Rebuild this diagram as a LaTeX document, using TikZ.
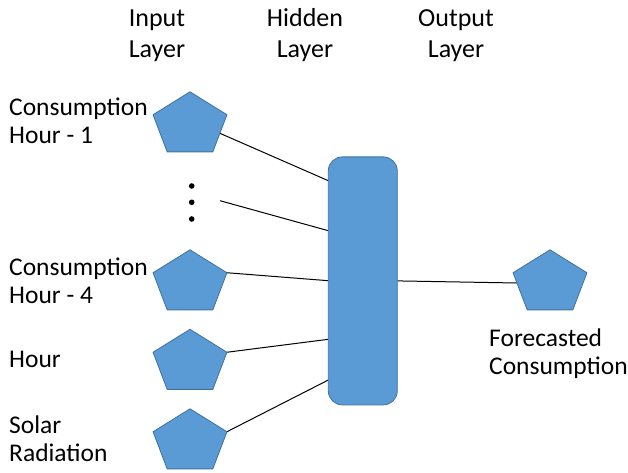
\documentclass[tikz,border=0pt]{standalone}
\usepackage{fontspec}
\setmainfont{Carlito}
\usetikzlibrary{shapes.geometric,backgrounds}
\definecolor{nodeblue}{HTML}{5B9BD5}
\definecolor{edgeblue}{HTML}{41719C}
\tikzset{
  penta/.style={regular polygon, regular polygon sides=5, minimum size=66.4pt,
    inner sep=0pt, outer sep=0pt, fill=nodeblue, draw=edgeblue, line width=0.8pt,
    xscale=1.17, transform shape},
  hiddenbox/.style={rectangle, rounded corners=14pt, minimum width=69pt, minimum height=248pt,
    inner sep=0pt, outer sep=0pt, fill=nodeblue, draw=edgeblue, line width=0.8pt},
  lbl/.style={font=\fontsize{25.5}{28}\selectfont, inner sep=0pt, align=left, anchor=base west},
  head/.style={font=\fontsize{26}{31.5}\selectfont, inner sep=0pt, align=center, anchor=base},
  conn/.style={draw=black, line width=1pt},
  dot/.style={circle, fill=black, inner sep=0pt, minimum size=5.6pt}
}
\begin{document}
\begin{tikzpicture}[x=1pt,y=-1pt]
\useasboundingbox (0,0) rectangle (628,473);
% headings (anchor = baseline of last line)
\node[head] (hin) at (157,58) {Input\\Layer};
\node[head] (hhid) at (305,58) {Hidden\\Layer};
\node[head] (hout) at (456,58) {Output\\Layer};
% labels
\node[lbl] (l1) at (9,143) {Consumption\\Hour - 1};
\node[lbl] (l2) at (9,303) {Consumption\\Hour - 4};
\node[lbl] (l3) at (9,367) {Hour};
\node[lbl] (l4) at (9,461) {Solar\\Radiation};
\node[lbl] (lo) at (489,374) {Forecasted\\Consumption};
% shapes
\node[penta] (p1) at (190,125) {};
\node[penta] (p2) at (190,283) {};
\node[penta] (p3) at (190,362.5) {};
\node[penta] (p4) at (190,442) {};
\node[penta] (po) at (550,283) {};
\node[hiddenbox] (h) at (362.8,280.9) {};
% dots
\node[dot] (d1) at (191.7,186) {};
\node[dot] (d2) at (191.7,202.3) {};
\node[dot] (d3) at (191.7,219) {};
\coordinate (dstart) at (220,200.7);
% connectors
\begin{pgfonlayer}{background}
\draw[conn] (p1.side 4) -- ([yshift=100.2pt]h.west);
\draw[conn] (dstart) -- ([yshift=50.2pt]h.west);
\draw[conn] (p2.corner 5) -- ([yshift=0.2pt]h.west);
\draw[conn] (p3.corner 5) -- ([yshift=-58.4pt]h.west);
\draw[conn] (p4.corner 5) -- ([yshift=-99.1pt]h.west);
\draw[conn] (h.east) -- (po.west);
\end{pgfonlayer}
\end{tikzpicture}
\end{document}
